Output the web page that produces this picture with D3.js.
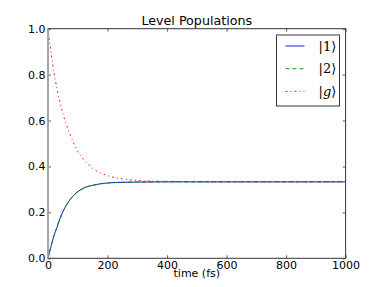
<!DOCTYPE html>
<html>
<head>
<meta charset="utf-8">
<script src="https://cdn.jsdelivr.net/npm/d3@7"></script>
<style>
  body { margin: 0; background: #fff; }
  svg { display: block; }
  text { font-family: "DejaVu Sans", sans-serif; }
</style>
</head>
<body>
<div id="chart"></div>
<script>
// time samples (fs) and populations
var times = [0, 10, 20, 30, 40, 50, 60, 80, 100, 120, 150, 200, 250, 300, 400, 500, 600, 700, 800, 900, 1000];
var pop1  = [0, 0.052, 0.098, 0.135, 0.172, 0.203, 0.228, 0.265, 0.290, 0.306, 0.318, 0.328, 0.331, 0.332, 0.333, 0.333, 0.333, 0.333, 0.333, 0.333, 0.333];
var pop2  = [0, 0.052, 0.098, 0.135, 0.172, 0.203, 0.228, 0.265, 0.290, 0.306, 0.318, 0.328, 0.331, 0.332, 0.333, 0.333, 0.333, 0.333, 0.333, 0.333, 0.333];
var popG  = [1.0, 0.90, 0.81, 0.74, 0.68, 0.63, 0.59, 0.52, 0.465, 0.43, 0.392, 0.36, 0.346, 0.339, 0.335, 0.334, 0.333, 0.333, 0.333, 0.333, 0.333];
var xTicks = [0, 200, 400, 600, 800, 1000];
var yTicks = [0.0, 0.2, 0.4, 0.6, 0.8, 1.0];

var W = 384, H = 287;
var margin = {top: 28.7, right: 38.4, bottom: 28.7, left: 48};
var width = W - margin.left - margin.right,
    height = H - margin.top - margin.bottom;

var svg = d3.select("#chart").append("svg")
    .attr("width", W)
    .attr("height", H);

var g = svg.append("g")
    .attr("transform", "translate(" + margin.left + "," + margin.top + ")");

var x = d3.scaleLinear().domain([0, 1000]).range([0, width]);
var y = d3.scaleLinear().domain([0, 1]).range([height, 0]);

// ticks point inwards, on all four sides
var tickLen = 3;
g.append("g")
    .attr("transform", "translate(0," + height + ")")
    .call(d3.axisBottom(x).tickValues(xTicks).tickSizeInner(-tickLen).tickSizeOuter(0).tickPadding(3)
        .tickFormat(d3.format("d")))
    .call(fmtAxis);
g.append("g")
    .call(d3.axisTop(x).tickValues(xTicks).tickSizeInner(-tickLen).tickSizeOuter(0).tickFormat(""))
    .call(fmtAxis);
g.append("g")
    .call(d3.axisLeft(y).tickValues(yTicks).tickSizeInner(-tickLen).tickSizeOuter(0).tickPadding(2.5)
        .tickFormat(d3.format(".1f")))
    .call(fmtAxis);
g.append("g")
    .attr("transform", "translate(" + width + ",0)")
    .call(d3.axisRight(y).tickValues(yTicks).tickSizeInner(-tickLen).tickSizeOuter(0).tickFormat(""))
    .call(fmtAxis);

function fmtAxis(sel) {
    sel.select(".domain").remove();
    sel.selectAll("line").attr("stroke", "#333").attr("stroke-width", 0.8);
    sel.selectAll("text")
        .attr("fill", "#000")
        .style("font-size", "11px")
        .style("font-family", "'DejaVu Sans', sans-serif");
}

function series(vals) {
    return d3.zip(times, vals);
}

var line = d3.line()
    .x(function(d) { return x(d[0]); })
    .y(function(d) { return y(d[1]); })
    .curve(d3.curveMonotoneX);

var lines = [
    {vals: pop1, color: "#0000ff", dash: null},
    {vals: pop2, color: "#008000", dash: "4,3"},
    {vals: popG, color: "#ff0000", dash: "2,3,1,3"}
];

lines.forEach(function(l) {
    g.append("path")
        .datum(series(l.vals))
        .attr("fill", "none")
        .attr("stroke", l.color)
        .attr("stroke-width", 0.9)
        .attr("stroke-dasharray", l.dash)
        .attr("d", line);
});

// frame
g.append("rect")
    .attr("width", width)
    .attr("height", height)
    .attr("fill", "none")
    .attr("stroke", "#333")
    .attr("stroke-width", 1);
g.append("line")
    .attr("x1", 0).attr("x2", 0)
    .attr("y1", 0).attr("y2", height)
    .attr("stroke", "#aaa")
    .attr("stroke-width", 1.6);

// title and axis label
svg.append("text")
    .attr("x", margin.left + width / 2)
    .attr("y", 25)
    .attr("text-anchor", "middle")
    .style("font-size", "12.7px")
    .text("Level Populations");

svg.append("text")
    .attr("x", margin.left + width / 2)
    .attr("y", 276.5)
    .attr("text-anchor", "middle")
    .style("font-size", "11px")
    .text("time (fs)");

// legend
var legend = svg.append("g").attr("transform", "translate(276.5,35)");
legend.append("rect")
    .attr("width", 63)
    .attr("height", 71)
    .attr("fill", "#fff")
    .attr("stroke", "#333")
    .attr("stroke-width", 1);

var labels = ["1", "2", "g"];
lines.forEach(function(l, i) {
    var ly = 11 + i * 22.7;
    legend.append("line")
        .attr("x1", 9).attr("x2", 28)
        .attr("y1", ly).attr("y2", ly)
        .attr("stroke", l.color)
        .attr("stroke-width", 0.9)
        .attr("stroke-dasharray", l.dash);
    var t = legend.append("text")
        .attr("x", 42)
        .attr("y", ly + 4.5)
        .style("font-family", "'DejaVu Serif', serif")
        .style("font-size", "13px");
    t.append("tspan").text("|");
    t.append("tspan")
        .style("font-style", labels[i] === "g" ? "italic" : "normal")
        .text(labels[i]);
    t.append("tspan").text("\u27E9");
});
</script>
</body>
</html>
